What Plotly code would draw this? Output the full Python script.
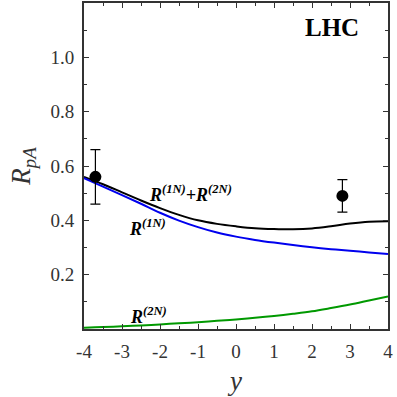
import plotly.graph_objects as go

y_rap = [-4, -3.5, -3, -2.5, -2, -1.5, -1, -0.5, 0, 0.5, 1, 1.5, 2, 2.5, 3, 3.5, 4]
r_total = [0.560, 0.533, 0.503, 0.473, 0.445, 0.420, 0.400, 0.387, 0.378, 0.371, 0.368, 0.367, 0.370, 0.378, 0.388, 0.395, 0.397]
r_1n = [0.555, 0.524, 0.493, 0.461, 0.428, 0.399, 0.375, 0.355, 0.340, 0.328, 0.318, 0.309, 0.301, 0.294, 0.288, 0.282, 0.276]
r_2n = [0.005, 0.007, 0.010, 0.013, 0.017, 0.021, 0.025, 0.030, 0.035, 0.041, 0.048, 0.056, 0.065, 0.077, 0.090, 0.105, 0.120]

data_y = [-3.7, 2.8]
data_r = [0.56, 0.49]
data_err = [0.10, 0.06]

y_tickvals = [0.2, 0.4, 0.6, 0.8, 1.0]
y_ticktext = ["0.2", "0.4", "0.6", "0.8", "1.0"]
x_tickvals = [-4, -3, -2, -1, 0, 1, 2, 3, 4]
x_ticktext = ["-4", "-3", "-2", "-1", "0", "1", "2", "3", "4"]

serif = "Times New Roman"

fig = go.Figure()
fig.add_trace(go.Scatter(x=y_rap, y=r_total, mode="lines", line=dict(color="black", width=2, shape="spline", smoothing=1.0)))
fig.add_trace(go.Scatter(x=y_rap, y=r_1n, mode="lines", line=dict(color="#0000ee", width=2, shape="spline", smoothing=1.0)))
fig.add_trace(go.Scatter(x=y_rap, y=r_2n, mode="lines", line=dict(color="#009900", width=2, shape="spline", smoothing=1.0)))
fig.add_trace(go.Scatter(x=data_y, y=data_r, mode="markers",
                         marker=dict(color="black", size=12),
                         error_y=dict(type="data", array=data_err, color="black", thickness=1.2, width=5)))

axis_common = dict(showline=True, linecolor="#333333", linewidth=2, mirror="allticks",
                   ticks="inside", ticklen=5, tickcolor="#333333", tickwidth=1.2,
                   showgrid=False, zeroline=False, automargin=False,
                   tickfont=dict(family=serif, size=19, color="#333333"))

fig.update_xaxes(range=[-4, 4], tickmode="array", tickvals=x_tickvals, ticktext=x_ticktext,
                 ticklabelstandoff=4,
                 minor=dict(tickmode="linear", tick0=-4, dtick=0.5, ticks="inside", ticklen=3, tickcolor="#333333"),
                 title=dict(text="<i>y</i>", font=dict(family=serif, size=27, color="#333333"), standoff=10),
                 **axis_common)
fig.update_yaxes(range=[0, 1.2], tickmode="array", tickvals=y_tickvals, ticktext=y_ticktext,
                 ticklabelstandoff=4,
                 minor=dict(tickmode="linear", tick0=0, dtick=0.1, ticks="inside", ticklen=3, tickcolor="#333333"),
                 title=dict(text="<i>R</i><sub><i>pA</i></sub>", font=dict(family=serif, size=27, color="#333333"), standoff=12),
                 **axis_common)

lab_font = dict(family=serif, size=18, color="black")
fig.add_annotation(x=-2.35, y=0.50, text="<b><i>R<sup>(1N)</sup>+R<sup>(2N)</sup></i></b>",
                   showarrow=False, xanchor="left", yanchor="middle", font=lab_font)
fig.add_annotation(x=-2.87, y=0.375, text="<b><i>R<sup>(1N)</sup></i></b>",
                   showarrow=False, xanchor="left", yanchor="middle", font=lab_font)
fig.add_annotation(x=-2.85, y=0.05, text="<b><i>R<sup>(2N)</sup></i></b>",
                   showarrow=False, xanchor="left", yanchor="middle", font=lab_font)
fig.add_annotation(x=2.53, y=1.11, text="<b>LHC</b>", showarrow=False,
                   xanchor="center", yanchor="middle", font=dict(family=serif, size=25, color="black"))

fig.update_layout(width=397, height=397, margin=dict(l=84, r=9, t=3, b=68),
                  plot_bgcolor="white", paper_bgcolor="white", showlegend=False,
                  font=dict(family=serif))
fig.write_html("out.html", config={"displayModeBar": False},
               post_script="document.body.style.margin='0';")
